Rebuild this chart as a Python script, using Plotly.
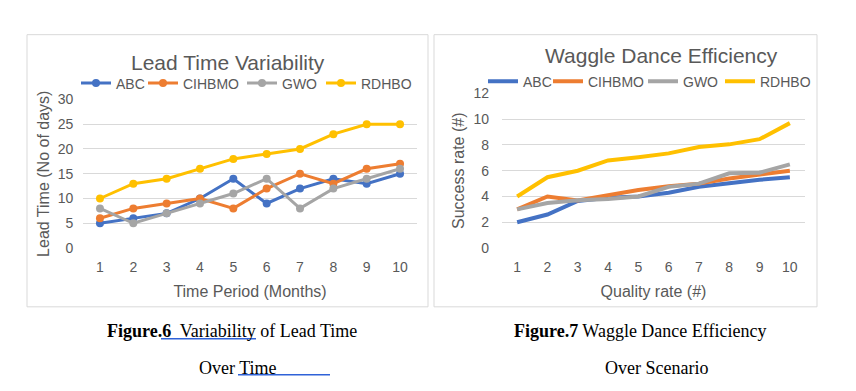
import plotly.graph_objects as go

W, H = 856, 391

periods = list(range(1, 11))
series_names = ["ABC", "CIHBMO", "GWO", "RDHBO"]
colors = ["#4472C4", "#ED7D31", "#A5A5A5", "#FFC000"]

lead_abc = [5, 6, 7, 10, 14, 9, 12, 14, 13, 15]
lead_cihbmo = [6, 8, 9, 10, 8, 12, 15, 13, 16, 17]
lead_gwo = [8, 5, 7, 9, 11, 14, 8, 12, 14, 16]
lead_rdhbo = [10, 13, 14, 16, 18, 19, 20, 23, 25, 25]

quality = list(range(1, 11))
wag_abc = [2.0, 2.6, 3.65, 3.9, 4.0, 4.3, 4.75, 5.05, 5.3, 5.5]
wag_cihbmo = [3.0, 4.0, 3.7, 4.1, 4.5, 4.8, 5.0, 5.4, 5.7, 6.0]
wag_gwo = [3.0, 3.5, 3.7, 3.8, 4.0, 4.75, 5.0, 5.8, 5.85, 6.5]
wag_rdhbo = [4.0, 5.5, 6.0, 6.8, 7.05, 7.35, 7.85, 8.05, 8.45, 9.7]

y_ticks_left = [0, 5, 10, 15, 20, 25, 30]
y_ticks_right = [0, 2, 4, 6, 8, 10, 12]

TXT = "#595959"
GRID = "#D9D9D9"
FONT = "Liberation Sans"


def px(x):
    return x / W


def py(y):
    # vertical pixel position (top-down) -> paper fraction, with a small
    # correction that keeps the rendered picture aligned with the reference
    y_set = (y - 6.25) / 0.962
    return 1 - y_set / H


fig = go.Figure()

# legend slots (one legend per entry so spacing follows the reference)
left_legend_x = [76, 143, 242, 321]
right_legend_x = [483, 548, 643, 720]

for i, (name, col, vals) in enumerate(zip(series_names, colors, [lead_abc, lead_cihbmo, lead_gwo, lead_rdhbo])):
    fig.add_trace(go.Scatter(x=periods, y=vals, name=name, mode="lines+markers",
                             line=dict(color=col, width=3), marker=dict(color=col, size=8),
                             xaxis="x", yaxis="y", legend="legend" if i == 0 else f"legend{i + 1}"))

for i, (name, col, vals) in enumerate(zip(series_names, colors, [wag_abc, wag_cihbmo, wag_gwo, wag_rdhbo])):
    fig.add_trace(go.Scatter(x=quality, y=vals, name=name, mode="lines",
                             line=dict(color=col, width=4),
                             xaxis="x2", yaxis="y2", legend=f"legend{i + 5}"))

axis_common = dict(showline=False, zeroline=False, ticks="",
                   tickfont=dict(family=FONT, size=14, color=TXT),
                   title_font=dict(family=FONT, size=16, color=TXT))

legend_style = dict(orientation="h", xanchor="left", yanchor="middle",
                    font=dict(family=FONT, size=14, color=TXT), bgcolor="rgba(0,0,0,0)",
                    itemwidth=30, itemclick=False, itemdoubleclick=False)

layout_legends = {}
for i, lx in enumerate(left_legend_x):
    key = "legend" if i == 0 else f"legend{i + 1}"
    layout_legends[key] = dict(x=px(lx), y=py(82), **legend_style)
for i, lx in enumerate(right_legend_x):
    layout_legends[f"legend{i + 5}"] = dict(x=px(lx), y=py(80), **legend_style)

fig.update_layout(
    width=W, height=H, margin=dict(l=0, r=0, t=0, b=0),
    paper_bgcolor="white", plot_bgcolor="white",
    font=dict(family=FONT, color=TXT),
    xaxis=dict(domain=[px(83.3), px(416.7)], range=[0.5, 10.5], tickvals=periods,
               showgrid=False, anchor="y", ticklabelstandoff=9,
               title=dict(text="Time Period (Months)", standoff=11), **axis_common),
    yaxis=dict(domain=[py(247), py(98)], range=[0, 30], tickvals=y_ticks_left,
               showgrid=True, gridcolor=GRID, gridwidth=1, anchor="x", ticklabelstandoff=9,
               title=dict(text="Lead Time (No of days)", standoff=4), **axis_common),
    xaxis2=dict(domain=[px(502), px(805)], range=[0.5, 10.5], tickvals=quality,
                showgrid=False, anchor="y2", ticklabelstandoff=9,
                title=dict(text="Quality rate (#)", standoff=11), **axis_common),
    yaxis2=dict(domain=[py(247), py(92)], range=[0, 12], tickvals=y_ticks_right,
                showgrid=True, gridcolor=GRID, gridwidth=1, anchor="x2", ticklabelstandoff=12,
                title=dict(text="Success rate (#)", standoff=4), **axis_common),
    showlegend=True,
    **layout_legends,
)

# chart frames
fig.add_shape(type="rect", xref="paper", yref="paper", x0=px(27), x1=px(428), y0=py(306), y1=py(33),
              line=dict(color=GRID, width=1), layer="below")
fig.add_shape(type="rect", xref="paper", yref="paper", x0=px(434), x1=px(817), y0=py(306), y1=py(33),
              line=dict(color=GRID, width=1), layer="below")

# chart titles
fig.add_annotation(text="Lead Time Variability", xref="paper", yref="paper", x=px(228), y=py(61),
                   showarrow=False, xanchor="center", yanchor="middle",
                   font=dict(family=FONT, size=21, color=TXT))
fig.add_annotation(text="Waggle Dance Efficiency", xref="paper", yref="paper", x=px(661), y=py(54),
                   showarrow=False, xanchor="center", yanchor="middle",
                   font=dict(family=FONT, size=21, color=TXT))

# captions
SERIF = "Liberation Serif"
cap = dict(xref="paper", yref="paper", showarrow=False, yanchor="middle",
           font=dict(family=SERIF, size=18, color="black"))
fig.add_annotation(text="<b>Figure.6</b>  Variability of Lead Time", x=px(105), y=py(330), xanchor="left", **cap)
fig.add_annotation(text="Over Time", x=px(197), y=py(367), xanchor="left", **cap)
fig.add_annotation(text="<b>Figure.7</b> Waggle Dance Efficiency", x=px(512), y=py(330), xanchor="left", **cap)
fig.add_annotation(text="Over Scenario", x=px(603), y=py(367), xanchor="left", **cap)

UL = "#2F62D8"
fig.add_shape(type="line", xref="paper", yref="paper", x0=px(161), x1=px(256), y0=py(338), y1=py(338),
              line=dict(color=UL, width=1.5))
fig.add_shape(type="line", xref="paper", yref="paper", x0=px(238), x1=px(330), y0=py(374), y1=py(374),
              line=dict(color=UL, width=1.5))

fig.write_html("out.html", config={"displayModeBar": False},
               post_script="document.body.style.margin='0';document.body.style.overflow='hidden';")
